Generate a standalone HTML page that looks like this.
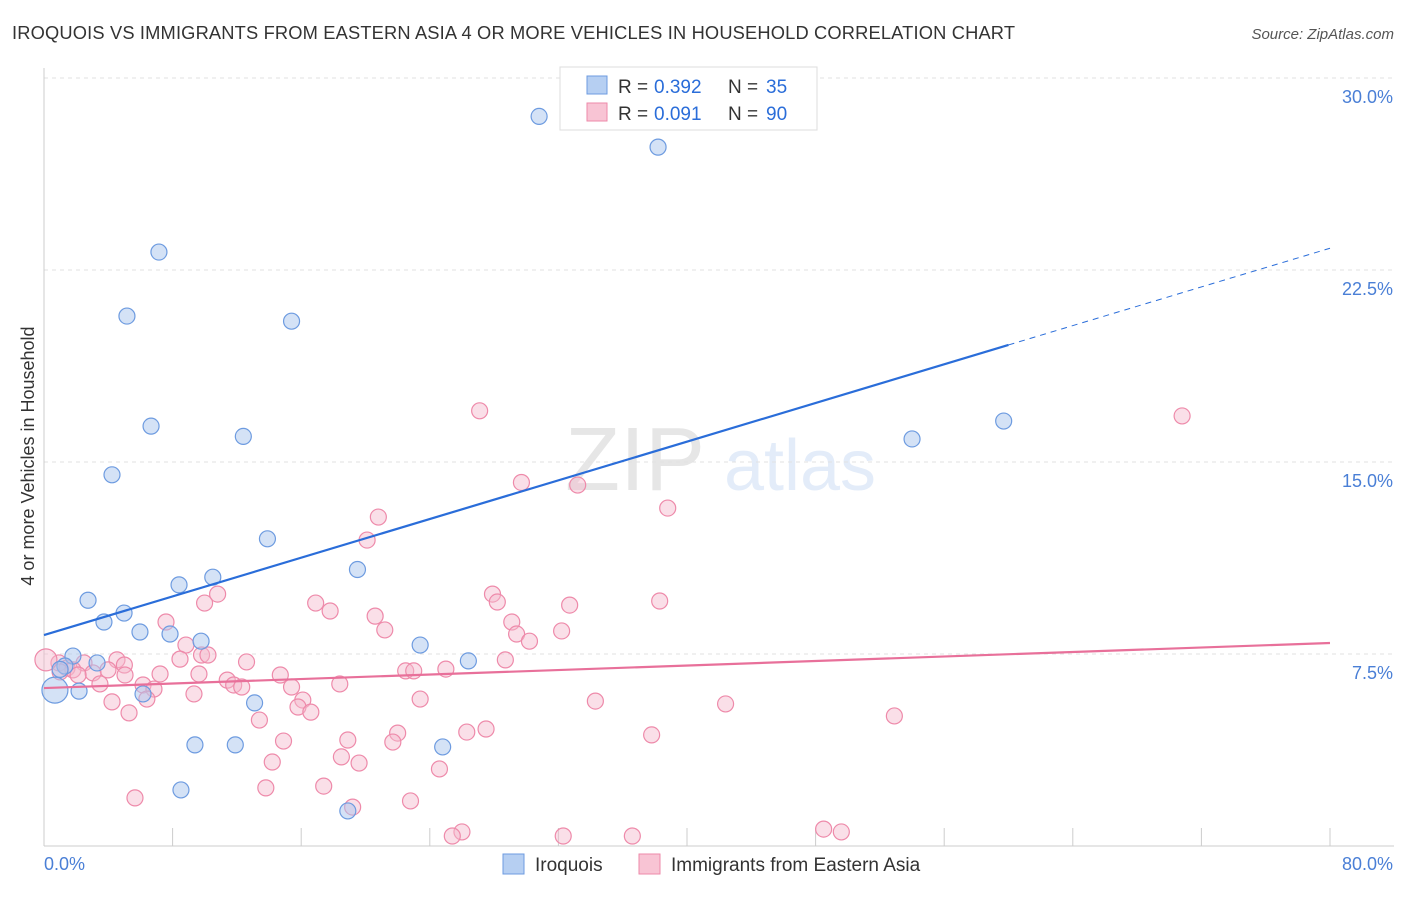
<!DOCTYPE html>
<html><head><meta charset="utf-8"><style>
body{margin:0;background:#fff;font-family:"Liberation Sans",sans-serif;}
svg text{font-family:"Liberation Sans",sans-serif;}
</style></head><body>
<svg id="chart" width="1406" height="892">
<text x="12" y="39" font-size="18.3" fill="#333" textLength="1003">IROQUOIS VS IMMIGRANTS FROM EASTERN ASIA 4 OR MORE VEHICLES IN HOUSEHOLD CORRELATION CHART</text>
<text x="1394" y="39" font-size="15" fill="#555" font-style="italic" text-anchor="end">Source: ZipAtlas.com</text>
<text transform="translate(34,456) rotate(-90)" font-size="18" fill="#333" text-anchor="middle">4 or more Vehicles in Household</text>
<g opacity="0.18">
<text x="635" y="490" font-size="90" font-family="Liberation Serif" fill="#777" text-anchor="middle">ZIP</text>
<text x="800" y="490" font-size="72" fill="#6b9be0" text-anchor="middle">atlas</text>
</g>
<g id="grid"></g><g id="axes"></g><g id="pts"></g><g id="lines"></g>
<g>
<rect x="560" y="67" width="257" height="63" fill="#fff" stroke="#ddd"/>
<rect x="587" y="76" width="20" height="18" fill="#b6cff2" stroke="#6d9be0"/>
<rect x="587" y="103" width="20" height="18" fill="#f8c4d4" stroke="#ee8aaa"/>
<text x="618" y="93" font-size="19" fill="#333">R =</text><text x="654" y="93" font-size="19" fill="#2a6dd9">0.392</text>
<text x="728" y="93" font-size="19" fill="#333">N =</text><text x="766" y="93" font-size="19" fill="#2a6dd9">35</text>
<text x="618" y="120" font-size="19" fill="#333">R =</text><text x="654" y="120" font-size="19" fill="#2a6dd9">0.091</text>
<text x="728" y="120" font-size="19" fill="#333">N =</text><text x="766" y="120" font-size="19" fill="#2a6dd9">90</text>
</g>
<g>
<rect x="503" y="854" width="21" height="20" fill="#b6cff2" stroke="#6d9be0"/>
<text x="535" y="871" font-size="19" fill="#333">Iroquois</text>
<rect x="639" y="854" width="21" height="20" fill="#f8c4d4" stroke="#ee8aaa"/>
<text x="671" y="871" font-size="19" fill="#333">Immigrants from Eastern Asia</text>
</g>
</svg>
<script>
const yTicks=[7.5,15,22.5,30];
const yTickLabels=["7.5%","15.0%","22.5%","30.0%"];
const xTickCount=10;
const blueX=[30.8,38.2,7.15,5.16,15.4,6.66,12.4,4.23,13.9,19.5,10.5,8.4,2.74,4.98,3.73,5.97,7.84,9.77,23.4,26.4,1.8,3.3,1.3,2.18,6.16,13.1,9.39,11.9,24.8,8.52,18.9,54.0,59.7,1.0,0.68];
const blueY=[28.5,27.3,23.2,20.7,20.5,16.4,16.0,14.5,12.0,10.8,10.5,10.2,9.6,9.1,8.75,8.36,8.28,8.0,7.85,7.23,7.42,7.15,7.03,6.05,5.94,5.59,3.95,3.95,3.87,2.19,1.37,15.9,16.6,6.9,6.09];
const pinkX=[27.1,70.8,29.7,33.2,38.8,20.8,20.1,27.9,28.2,32.7,38.3,16.9,17.8,10.8,9.99,20.6,21.2,29.1,29.4,30.2,32.2,7.59,8.83,8.46,9.8,10.2,12.6,4.54,5.0,2.49,3.98,3.05,7.22,9.64,14.7,22.5,23.0,25.0,28.7,3.48,6.16,6.84,11.4,11.8,12.3,15.4,18.4,9.33,4.23,6.4,16.1,15.8,16.6,23.4,34.3,42.4,52.9,5.29,13.4,22.0,21.7,26.3,27.5,37.8,14.9,18.9,18.5,19.6,14.2,24.6,13.8,17.4,5.66,22.8,19.2,26.0,25.4,32.3,36.6,48.5,49.6,0.93,1.43,1.8,2.12,1.0,5.04,0.12];
const pinkY=[17.0,16.8,14.2,14.1,13.2,12.85,11.95,9.84,9.53,9.41,9.57,9.49,9.18,9.84,9.49,8.98,8.44,8.75,8.28,8.0,8.4,8.75,7.85,7.3,7.46,7.46,7.19,7.27,7.07,7.15,6.88,6.76,6.72,6.72,6.68,6.84,6.84,6.91,7.27,6.33,6.29,6.13,6.48,6.29,6.21,6.21,6.33,5.94,5.63,5.74,5.7,5.43,5.23,5.74,5.66,5.55,5.08,5.2,4.92,4.41,4.06,4.45,4.57,4.34,4.1,4.14,3.48,3.24,3.28,3.01,2.27,2.34,1.88,1.76,1.52,0.55,0.39,0.39,0.39,0.66,0.55,7.15,6.95,6.88,6.68,6.8,6.68,7.27];
const blueTrend=[8.24,23.35];
const pinkTrend=[6.17,7.93];
const ns="http://www.w3.org/2000/svg";
const X=v=>44+v*16.075, Y=v=>846-v*25.6;
function mk(t,a,p){const e=document.createElementNS(ns,t);for(const k in a)e.setAttribute(k,a[k]);p.appendChild(e);return e;}
const grid=document.getElementById('grid'),axes=document.getElementById('axes');
yTicks.forEach((t,i)=>{
 const l=mk('line',{x1:44,x2:1394,y1:Y(t),y2:Y(t),stroke:'#e2e2e2','stroke-dasharray':'4,4'},grid);
 
 
 const tx=mk('text',{x:1393,y:Y(t)+25,'font-size':18,fill:'#4a7fd6','text-anchor':'end'},axes);tx.textContent=yTickLabels[i];
 
 
});
mk('line',{x1:44,x2:44,y1:68,y2:846,stroke:'#ccc'},axes);
mk('line',{x1:44,x2:1394,y1:846,y2:846,stroke:'#ccc'},axes);
for(let i=0;i<=xTickCount;i++){const x=X(i*8);const t=mk('line',{x1:x,x2:x,y1:828,y2:846,stroke:'#ccc'},axes);
 
 }
const x0=mk('text',{x:44,y:870,'font-size':18,fill:'#4a7fd6'},axes);x0.textContent='0.0%';


const x1=mk('text',{x:1393,y:870,'font-size':18,fill:'#4a7fd6','text-anchor':'end'},axes);x1.textContent='80.0%';


const pts=document.getElementById('pts');
pinkX.forEach((v,i)=>{const c=mk('circle',{cx:X(v),cy:Y(pinkY[i]),r:i==pinkX.length-1?11:8,fill:'#f5b8cb','fill-opacity':0.45,stroke:'#ee8aaa','stroke-width':1.2},pts);
 
 });
blueX.forEach((v,i)=>{const c=mk('circle',{cx:X(v),cy:Y(blueY[i]),r:i==blueX.length-1?13:8,fill:'#a9c6ee','fill-opacity':0.5,stroke:'#6d9be0','stroke-width':1.2},pts);
 
 });
const lines=document.getElementById('lines');
const bAt=x=>blueTrend[0]+(blueTrend[1]-blueTrend[0])*x/80;
const b1=mk('line',{x1:X(0),y1:Y(bAt(0)),x2:X(60),y2:Y(bAt(60)),stroke:'#2a6dd9','stroke-width':2.2},lines);


const b2=mk('line',{x1:X(60),y1:Y(bAt(60)),x2:X(80),y2:Y(bAt(80)),stroke:'#2a6dd9','stroke-width':1,'stroke-dasharray':'6,5'},lines);


const p1=mk('line',{x1:X(0),y1:Y(pinkTrend[0]),x2:X(80),y2:Y(pinkTrend[1]),stroke:'#e8709a','stroke-width':2.2},lines);


</script>
</body></html>
